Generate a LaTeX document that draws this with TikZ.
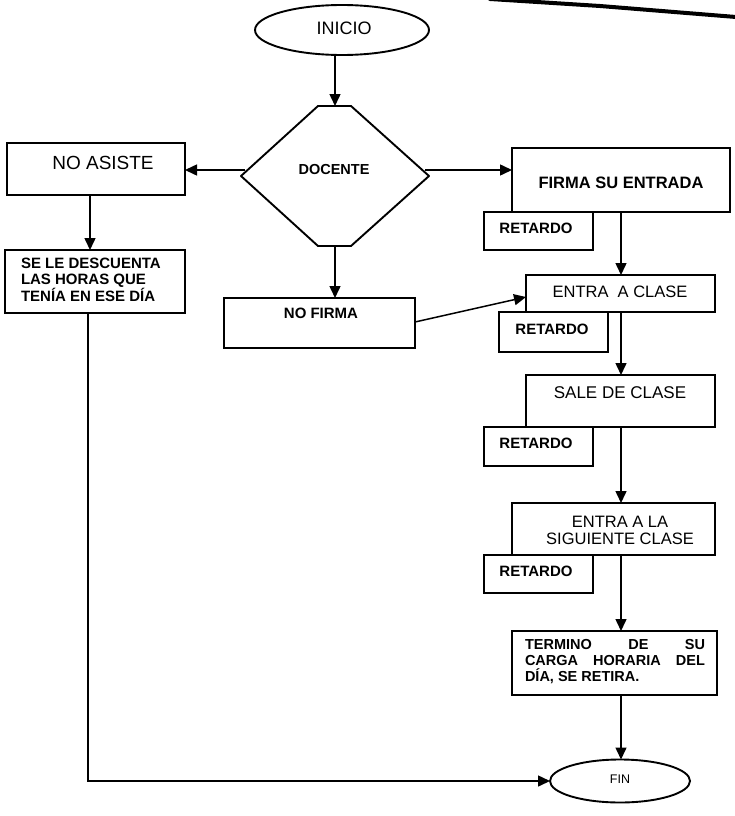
\documentclass[tikz,border=0pt]{standalone}
\usepackage{fontspec}
\setmainfont{Liberation Sans}
\usetikzlibrary{arrows.meta,shapes.geometric}
\begin{document}
\begin{tikzpicture}[x=1pt,y=-1pt,
  box/.style={draw, line width=1.9pt, rectangle, inner sep=0pt, outer sep=0pt},
  oval/.style={draw, ellipse, line width=1.9pt, inner sep=0pt, outer sep=0pt},
  txt/.style={inner sep=0pt, outer sep=0pt, align=center},
  arr/.style={line width=1.5pt, -{Triangle[length=12pt,width=11pt]}},
]
\useasboundingbox (0,0) rectangle (734,816);

% stray stroke at the top edge of the sheet
\draw[line width=4pt, line cap=round] (490,-1) -- (600,6) -- (736,17);

% start / end
\node[oval, minimum width=174pt, minimum height=50pt] (inicio) at (342,30) {};
\node[txt, font=\fontsize{18}{20}\selectfont] (tinicio) at (344,28) {INICIO};

\node[oval, minimum width=140pt, minimum height=43pt] (fin) at (620,781) {};
\node[txt, font=\fontsize{12.5}{14}\selectfont] (tfin) at (620,779) {FIN};

% decision
\coordinate (dtop) at (335,106);
\coordinate (dbot) at (335,246);
\coordinate (dleft) at (245,170);
\coordinate (dright) at (425,170);
\draw[line width=1.9pt, line join=round]
  (318,106) -- (351,106) -- (429,176) -- (351,246) -- (318,246) -- (241,176) -- cycle;
\node[txt, font=\bfseries\fontsize{14.5}{16}\selectfont] (docente) at (334,170) {DOCENTE};

% left branch
\node[box, minimum width=178pt, minimum height=52pt] (noasiste) at (96,169) {};
\node[txt, font=\fontsize{19}{21}\selectfont] (tnoasiste) at (103,163) {NO ASISTE};

\node[box, minimum width=180pt, minimum height=63pt] (descuenta) at (95,281.5) {};
\node[txt, anchor=west, align=left, font=\bfseries\fontsize{15}{15.5}\selectfont]
  (tdescuenta) at (21,280) {SE LE DESCUENTA\\LAS HORAS QUE\\TENÍA EN ESE DÍA};

% middle branch
\node[box, minimum width=191pt, minimum height=50pt] (nofirma) at (319.5,323) {};
\node[txt, font=\bfseries\fontsize{15}{17}\selectfont] (tnofirma) at (321,313) {NO FIRMA};

% main column
\coordinate (spine) at (621,0);

\node[box, minimum width=218pt, minimum height=64pt] (firma) at (621,180) {};
\node[txt, font=\bfseries\fontsize{16.5}{18}\selectfont] (tfirma) at (621,183) {FIRMA SU ENTRADA};
\node[box, minimum width=109pt, minimum height=38pt] (ret1) at (538.5,231) {};
\node[txt, font=\bfseries\fontsize{15}{17}\selectfont] (tret1) at (536,228) {RETARDO};

\node[box, minimum width=189pt, minimum height=37pt] (entra) at (620.5,293.5) {};
\node[txt, font=\fontsize{16.5}{18}\selectfont] (tentra) at (620,292) {ENTRA\ \ A CLASE};
\node[box, minimum width=109pt, minimum height=40pt] (ret2) at (553.5,332) {};
\node[txt, font=\bfseries\fontsize{15}{17}\selectfont] (tret2) at (552,329) {RETARDO};

\node[box, minimum width=189pt, minimum height=52pt] (sale) at (620.5,401) {};
\node[txt, font=\fontsize{17}{19}\selectfont] (tsale) at (620,393) {SALE DE CLASE};
\node[box, minimum width=109pt, minimum height=39pt] (ret3) at (538.5,446.5) {};
\node[txt, font=\bfseries\fontsize{15}{17}\selectfont] (tret3) at (536,443) {RETARDO};

\node[box, minimum width=203pt, minimum height=52pt] (siguiente) at (613.5,529) {};
\node[txt, font=\fontsize{16.5}{17}\selectfont] (tsiguiente) at (620,530) {ENTRA A LA\\SIGUIENTE CLASE};
\node[box, minimum width=109pt, minimum height=38pt] (ret4) at (538.5,574) {};
\node[txt, font=\bfseries\fontsize{15}{17}\selectfont] (tret4) at (536,571) {RETARDO};

\node[box, minimum width=205pt, minimum height=64pt] (termino) at (614.5,663) {};
\node[txt, align=left, font=\bfseries\fontsize{14.5}{16}\selectfont] (ttermino) at (615,662)
  {\makebox[180pt][s]{TERMINO DE SU}\\
   \makebox[180pt][s]{CARGA HORARIA DEL}\\
   \makebox[180pt][l]{DÍA, SE RETIRA.}};

% connectors
\draw[arr] (inicio.south -| dtop) -- (dtop);
\draw[arr] (dleft) -- (dleft -| noasiste.east);
\draw[arr] (dright) -- (dright -| firma.west);
\draw[arr] (dbot) -- (dbot |- nofirma.north);
\draw[arr] ([xshift=-6pt]noasiste.south) -- ([xshift=-6pt]noasiste.south |- descuenta.north);
\draw[arr] ([xshift=-7pt]descuenta.south) |- (fin.west);
\draw[arr] ([yshift=1pt]nofirma.east) -- ([yshift=-3.5pt]entra.west);
\draw[arr] (firma.south -| spine) -- (entra.north -| spine);
\draw[arr] (entra.south -| spine) -- (sale.north -| spine);
\draw[arr] (sale.south -| spine) -- (siguiente.north -| spine);
\draw[arr] (siguiente.south -| spine) -- (termino.north -| spine);
\draw[arr] (termino.south -| spine) -- (fin.north -| spine);
\end{tikzpicture}
\end{document}
